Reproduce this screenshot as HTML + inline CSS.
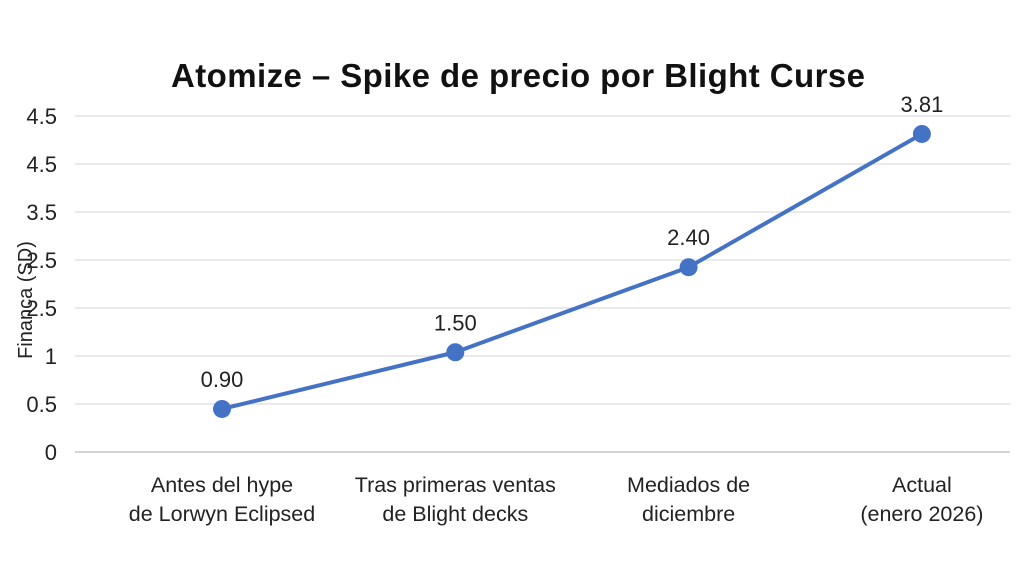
<!DOCTYPE html>
<html><head><meta charset="utf-8"><style>
html,body{margin:0;padding:0;background:#fff;}
svg{display:block;font-family:"Liberation Sans",sans-serif;}
</style></head><body>
<svg id="chart" width="1024" height="575" viewBox="0 0 1024 575">
<text x="518" y="87" text-anchor="middle" font-size="33" font-weight="bold" fill="#111" textLength="694">Atomize – Spike de precio por Blight Curse</text>
<text transform="translate(32,300) rotate(-90)" text-anchor="middle" font-size="20" fill="#222">Financa (SD)</text>
<g id="grid"></g><g id="ylabels"></g><g id="xlabels"></g><g id="series"></g>
</svg>
<script>
const categories = [["Antes del hype","de Lorwyn Eclipsed"],["Tras primeras ventas","de Blight decks"],["Mediados de","diciembre"],["Actual","(enero 2026)"]];
const values = [0.90, 1.50, 2.40, 3.81];
const valueLabels = ["0.90","1.50","2.40","3.81"];
const tickLabels = ["4.5","4.5","3.5","2.5","2.5","1","0.5","0"];
const NS="http://www.w3.org/2000/svg";
function mk(t,a,p){const e=document.createElementNS(NS,t);for(const k in a)e.setAttribute(k,a[k]);p.appendChild(e);return e;}
function xPos(i){return 222+i*233.3;}
function yScale(v){return 494-v*94.5;}
function tickY(i){return 116+i*48;}
const grid=document.getElementById('grid'),yl=document.getElementById('ylabels'),xl=document.getElementById('xlabels'),s=document.getElementById('series');
tickLabels.forEach((t,i)=>{
 const l=mk('line',{x1:75,x2:1010,y1:tickY(i),y2:tickY(i),stroke:i==tickLabels.length-1?'#bbb':'#ddd','stroke-width':1.3},grid);
 
 
 const tx=mk('text',{x:57,y:tickY(i)+8,'text-anchor':'end','font-size':22,fill:'#222'},yl);tx.textContent=t;
 
 
});
categories.forEach((c,i)=>{
 c.forEach((ln,j)=>{const tx=mk('text',{x:xPos(i),y:492+j*29,'text-anchor':'middle','font-size':21.5,fill:'#222'},xl);tx.textContent=ln;
 
 });
});
const pl=mk('polyline',{points:values.map((v,i)=>xPos(i)+','+yScale(v)).join(' '),fill:'none',stroke:'#4472c4','stroke-width':4,'stroke-linejoin':'round'},s);


values.forEach((v,i)=>{
 const c=mk('circle',{cx:xPos(i),cy:yScale(v),r:9,fill:'#4472c4'},s);
 
 
 const t=mk('text',{x:xPos(i),y:yScale(v)-22,'text-anchor':'middle','font-size':22,fill:'#222'},s);t.textContent=valueLabels[i];
 
 
});
</script>
</body></html>
